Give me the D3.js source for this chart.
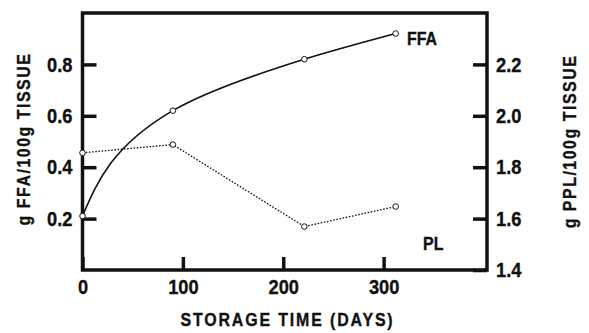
<!DOCTYPE html>
<html>
<head>
<meta charset="utf-8">
<script src="https://cdn.jsdelivr.net/npm/d3@7"></script>
<style>
  html, body { margin: 0; padding: 0; background: #fff; }
  svg text { font-family: "Liberation Sans", Arial, sans-serif; font-weight: bold; fill: #111; stroke: #111; stroke-width: 0.35; }
</style>
</head>
<body>
<svg id="chart" width="589" height="333"></svg>
<script>
// Storage time (days) at each sampling
const days = [0, 90, 221, 312];
// Free fatty acids, g FFA / 100 g tissue (left axis)
const ffa = [0.21, 0.62, 0.82, 0.92];
// Phospholipid, g PPL / 100 g tissue (right axis)
const pl = [1.856, 1.888, 1.569, 1.647];

const xTicks = [0, 100, 200, 300];
const leftTicks = [0.2, 0.4, 0.6, 0.8];
const rightTicks = [1.4, 1.6, 1.8, 2.0, 2.2];

const svg = d3.select("#chart");
const L = 82.5, R = 487, T = 13, B = 270;
const SQUEEZE = 0.84; // narrow, condensed lettering

// Compress text horizontally about its anchor x
function condense(sel, s = SQUEEZE) {
  sel.each(function () {
    const t = d3.select(this);
    const x0 = +t.attr("x") || 0;
    t.attr("transform", `translate(${x0},0) scale(${s},1) translate(${-x0},0)`);
  });
}

const x = d3.scaleLinear().domain([0, 403]).range([L, R]);
const yL = d3.scaleLinear().domain([0, 1.0]).range([B, T]);
const yR = d3.scaleLinear().domain([1.4, 2.4]).range([B, T]);

// Axes with ticks pointing into the plot
const gx = svg.append("g").attr("transform", `translate(0,${B})`)
  .call(d3.axisBottom(x).tickValues(xTicks).tickSize(-13).tickPadding(9).tickFormat(d3.format("d")));
const gl = svg.append("g").attr("transform", `translate(${L},0)`)
  .call(d3.axisLeft(yL).tickValues(leftTicks).tickSize(-14).tickPadding(10).tickFormat(d3.format(".1f")));
const gr = svg.append("g").attr("transform", `translate(${R},0)`)
  .call(d3.axisRight(yR).tickValues(rightTicks).tickSize(-14).tickPadding(9).tickFormat(d3.format(".1f")));

[gx, gl, gr].forEach(g => {
  g.attr("font-family", null).attr("font-size", null);
  g.select(".domain").remove();
  g.selectAll(".tick line").attr("stroke", "#111").attr("stroke-width", 3.5);
  g.selectAll(".tick text").attr("font-size", 21).attr("fill", "#111");
  condense(g.selectAll(".tick text"), 0.87);
});

// Frame
svg.append("rect").attr("x", L).attr("y", T).attr("width", R - L).attr("height", B - T)
  .attr("fill", "none").attr("stroke", "#111").attr("stroke-width", 3.5);

// FFA: smooth solid curve
const ffaData = days.map((d, i) => [d, ffa[i]]);
svg.append("path").datum(ffaData)
  .attr("fill", "none").attr("stroke", "#111").attr("stroke-width", 1.6)
  .attr("d", d3.line().x(d => x(d[0])).y(d => yL(d[1])).curve(d3.curveMonotoneY));

// PL: dotted polyline
const plData = days.map((d, i) => [d, pl[i]]);
svg.append("path").datum(plData)
  .attr("fill", "none").attr("stroke", "#111").attr("stroke-width", 1.3)
  .attr("stroke-dasharray", "1.6,1.6")
  .attr("d", d3.line().x(d => x(d[0])).y(d => yR(d[1])));

// Open circle markers
svg.append("g").selectAll("circle").data(ffaData).join("circle")
  .attr("cx", d => x(d[0])).attr("cy", d => yL(d[1])).attr("r", 2.8)
  .attr("fill", "#fff").attr("stroke", "#111").attr("stroke-width", 1);
svg.append("g").selectAll("circle").data(plData).join("circle")
  .attr("cx", d => x(d[0])).attr("cy", d => yR(d[1])).attr("r", 2.8)
  .attr("fill", "#fff").attr("stroke", "#111").attr("stroke-width", 1);

// Series labels
const lblFFA = svg.append("text").attr("x", 407).attr("y", 45).attr("font-size", 19).text("FFA");
const lblPL = svg.append("text").attr("x", 423).attr("y", 250).attr("font-size", 19).text("PL");
condense(lblFFA); condense(lblPL);

// Axis titles
const xt = svg.append("text").attr("x", 287.5).attr("y", 326).attr("text-anchor", "middle")
  .attr("font-size", 19).attr("letter-spacing", 2.2).text("STORAGE TIME (DAYS)");
condense(xt);
svg.append("text").attr("transform", `translate(30,139) rotate(-90) scale(${SQUEEZE},1)`).attr("text-anchor", "middle")
  .attr("font-size", 19).attr("letter-spacing", 1.8).text("g FFA/100g TISSUE");
svg.append("text").attr("transform", `translate(576,141.5) rotate(-90) scale(${SQUEEZE},1)`).attr("text-anchor", "middle")
  .attr("font-size", 19).attr("letter-spacing", 1.8).text("g PPL/100g TISSUE");
</script>
</body>
</html>
